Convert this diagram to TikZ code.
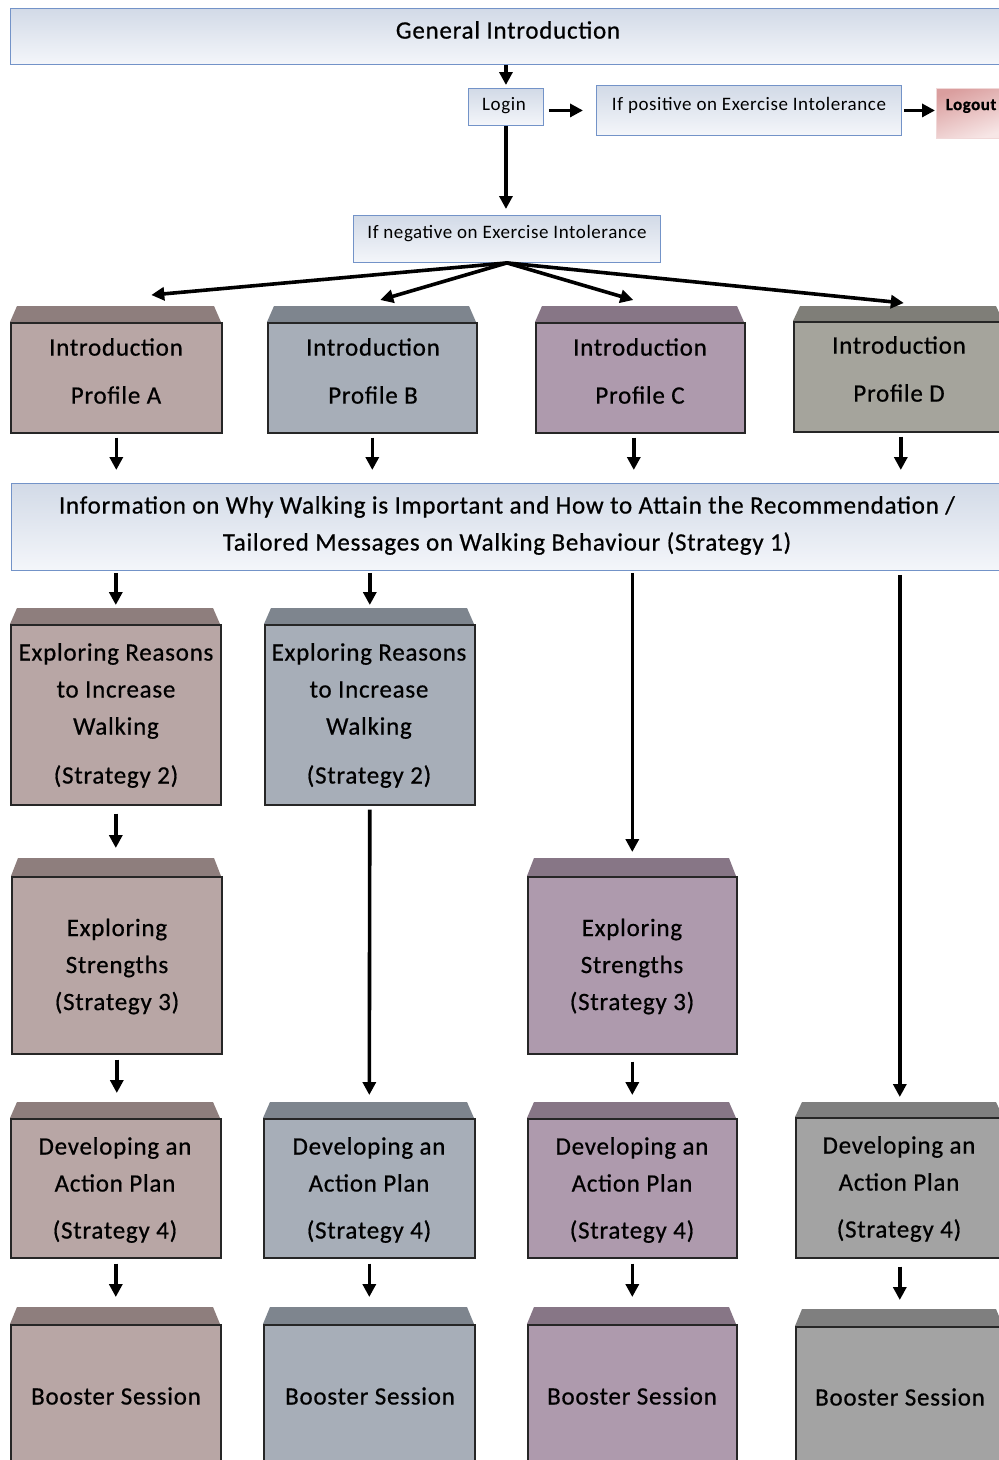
\documentclass[tikz,border=0pt]{standalone}
\usepackage{fontspec}
\setmainfont{Carlito}[LetterSpace=3, FakeBold=0.6]
\newfontfamily\thinfont{Carlito}[LetterSpace=3]
\usetikzlibrary{arrows.meta,calc}
\definecolor{Afront}{HTML}{B8A6A5}\definecolor{Atop}{HTML}{8E7E7D}
\definecolor{Bfront}{HTML}{A7AEB8}\definecolor{Btop}{HTML}{7E858E}
\definecolor{Cfront}{HTML}{AE9AAD}\definecolor{Ctop}{HTML}{877686}
\definecolor{Dfront}{HTML}{A5A49C}\definecolor{Dtop}{HTML}{7F7E78}
\definecolor{Gfront}{HTML}{A3A3A3}\definecolor{Gtop}{HTML}{7F7F7F}
\definecolor{bluebd}{HTML}{7393C8}
\definecolor{bluetop}{HTML}{D2DAE7}
\definecolor{bluebot}{HTML}{F4F6FA}
\definecolor{redtop}{HTML}{DA9E9E}
\definecolor{redbot}{HTML}{F7E6E6}
\tikzset{
  arr/.style={line width=3.6pt, -{Triangle[length=13pt,width=13pt]}},
  bluebox/.style={draw=bluebd, line width=0.9pt, top color=bluetop, bottom color=bluebot, anchor=north west, inner sep=0},
  logoutbox/.style={draw=redtop!40, line width=0.5pt, top color=redtop, bottom color=redbot, shading angle=20, anchor=north west, inner sep=0},
  frontface/.style={draw=black!85, line width=1.6pt, anchor=north west, inner sep=0},
  t25/.style={font=\fontsize{25}{37}\selectfont, align=center, inner sep=0},
  t17/.style={font=\thinfont\fontsize{19}{22}\selectfont, inner sep=0},
}
% name, x1, y top-face, y front-top, x2, y bottom, colour key
\newcommand\mkcube[7]{%
  \fill[#7top] (#2,#4) -- (#2+7,#3) -- (#5-7,#3) -- (#5,#4) -- cycle;
  \node[frontface, fill=#7front, minimum width={#5-#2}, minimum height={#6-#4}] (#1) at (#2,#4) {};
}
\begin{document}
\begin{tikzpicture}[x=1pt,y=-1pt]
\useasboundingbox (0,0) rectangle (999,1460);
\clip (0,0) rectangle (999,1460);
\fill[white] (0,0) rectangle (999,1460);

% top blue boxes
\node[bluebox, minimum width=993, minimum height=56] (gi) at (10,8) {};
\node[t25] (giT) at (508,30) {General Introduction};
\node[bluebox, minimum width=75, minimum height=37] (login) at (468,88) {};
\node[t17] (loginT) at (504,106) {Login};
\node[bluebox, minimum width=305, minimum height=50] (pos) at (596,85) {};
\node[t17] (posT) at (749,105) {If positive on Exercise Intolerance};
\node[logoutbox, minimum width=67, minimum height=50] (logout) at (936,88) {};
\node[font=\bfseries\fontsize{17}{20}\selectfont, inner sep=0] (logoutT) at (971,106) {Logout};
\node[bluebox, minimum width=307, minimum height=47] (neg) at (353,215) {};
\node[t17] (negT) at (507,234) {If negative on Exercise Intolerance};
\node[bluebox, minimum width=992, minimum height=87] (s1) at (11,483) {};
\node[t25] (s1T) at (507,525.5) {Information on Why Walking is Important and How to Attain the Recommendation /\\Tailored Messages on Walking Behaviour (Strategy 1)};

% profiles
\mkcube{pa}{10}{306}{322}{221}{432}{A}
\mkcube{pb}{267}{306}{322}{476}{432}{B}
\mkcube{pc}{535}{306}{322}{744}{432}{C}
\mkcube{pd}{793}{306}{321}{1003}{431}{D}
\node[t25] (paT) at (116,371) {Introduction\\[11pt]Profile A};
\node[t25] (pbT) at (373,371) {Introduction\\[11pt]Profile B};
\node[t25] (pcT) at (640,371) {Introduction\\[11pt]Profile C};
\node[t25] (pdT) at (899,369) {Introduction\\[11pt]Profile D};

% strategy 2
\mkcube{ra}{10}{608}{624}{220}{804}{A}
\mkcube{rb}{264}{608}{624}{474}{804}{B}
\node[t25] (raT) at (116,715.5) {Exploring Reasons\\to Increase\\Walking\\[12pt](Strategy 2)};
\node[t25] (rbT) at (369,715.5) {Exploring Reasons\\to Increase\\Walking\\[12pt](Strategy 2)};

% strategy 3
\mkcube{sa}{11}{858}{876}{221}{1053}{A}
\mkcube{sc}{527}{858}{876}{736}{1053}{C}
\node[t25] (saT) at (117,966.5) {Exploring\\Strengths\\(Strategy 3)};
\node[t25] (scT) at (632,966.5) {Exploring\\Strengths\\(Strategy 3)};

% strategy 4
\mkcube{da}{10}{1102}{1118}{220}{1257}{A}
\mkcube{db}{263}{1102}{1118}{474}{1257}{B}
\mkcube{dc}{527}{1102}{1118}{736}{1257}{C}
\mkcube{dd}{795}{1102}{1117}{1003}{1257}{G}
\node[t25] (daT) at (115,1190) {Developing an\\Action Plan\\[10pt](Strategy 4)};
\node[t25] (dbT) at (369,1190) {Developing an\\Action Plan\\[10pt](Strategy 4)};
\node[t25] (dcT) at (632,1190) {Developing an\\Action Plan\\[10pt](Strategy 4)};
\node[t25] (ddT) at (899,1189) {Developing an\\Action Plan\\[10pt](Strategy 4)};

% booster
\mkcube{ba}{10}{1307}{1324}{220}{1475}{A}
\mkcube{bb}{263}{1307}{1324}{474}{1475}{B}
\mkcube{bc}{527}{1307}{1324}{736}{1475}{C}
\mkcube{bd}{795}{1309}{1326}{1003}{1475}{G}
\node[t25] (baT) at (116,1396) {Booster Session};
\node[t25] (bbT) at (370,1396) {Booster Session};
\node[t25] (bcT) at (632,1396) {Booster Session};
\node[t25] (bdT) at (900,1397) {Booster Session};

% connectors
\draw[arr, shorten >=3pt] (login.north |- gi.south) -- (login.north);
\draw[arr, shorten <=5pt, shorten >=13pt] (login.east |- pos.west) -- (pos.west);
\draw[arr, shorten <=2pt, shorten >=1pt] (pos.east) -- (pos.east -| logout.west);
\draw[arr, shorten >=6pt] (login.south) -- (login.south |- neg.north);
\draw[arr] (neg.south) -- ([xshift=35pt,yshift=27pt]pa.north);
\draw[arr] (neg.south) -- ([xshift=8pt,yshift=22pt]pb.north);
\draw[arr] (neg.south) -- ([xshift=-7pt,yshift=22pt]pc.north);
\draw[arr] (neg.south) -- ([xshift=5pt,yshift=18pt]pd.north);

\draw[arr, shorten <=4pt, shorten >=13pt] (pa.south) -- (pa.south |- s1.north);
\draw[arr, shorten <=4pt, shorten >=13pt] (pb.south) -- (pb.south |- s1.north);
\draw[arr, shorten <=4pt, shorten >=13pt] ([xshift=-6.5pt]pc.south) -- ([xshift=-6.5pt]pc.south |- s1.north);
\draw[arr, shorten <=4pt, shorten >=13pt] ([xshift=2pt]pd.south) -- ([xshift=2pt]pd.south |- s1.north);

\draw[arr, shorten <=2pt] (ra.north |- s1.south) -- ([yshift=19pt]ra.north);
\draw[arr, shorten <=2pt] (rb.north |- s1.south) -- ([yshift=19pt]rb.north);
\draw[arr, shorten <=2pt] (sc.north |- s1.south) -- ([yshift=24pt]sc.north);
\draw[arr, shorten <=4pt] (dd.north |- s1.south) -- ([yshift=20pt]dd.north);

\draw[arr, shorten <=8pt] (ra.south) -- ([yshift=28pt]sa.north -| ra.south);
\draw[arr, shorten <=4pt] (rb.south) -- ([yshift=23pt]db.north);
\draw[arr, shorten <=5pt] (sa.south) -- ([yshift=25pt]da.north -| sa.south);
\draw[arr, shorten <=7pt] (sc.south) -- ([yshift=23pt]dc.north);
\draw[arr, shorten <=5pt] (da.south) -- ([yshift=27pt]ba.north);
\draw[arr, shorten <=5pt] (db.south) -- ([yshift=27pt]bb.north);
\draw[arr, shorten <=5pt] (dc.south) -- ([yshift=27pt]bc.north);
\draw[arr, shorten <=8pt] (dd.south) -- ([yshift=26pt]bd.north);
\end{tikzpicture}
\end{document}
